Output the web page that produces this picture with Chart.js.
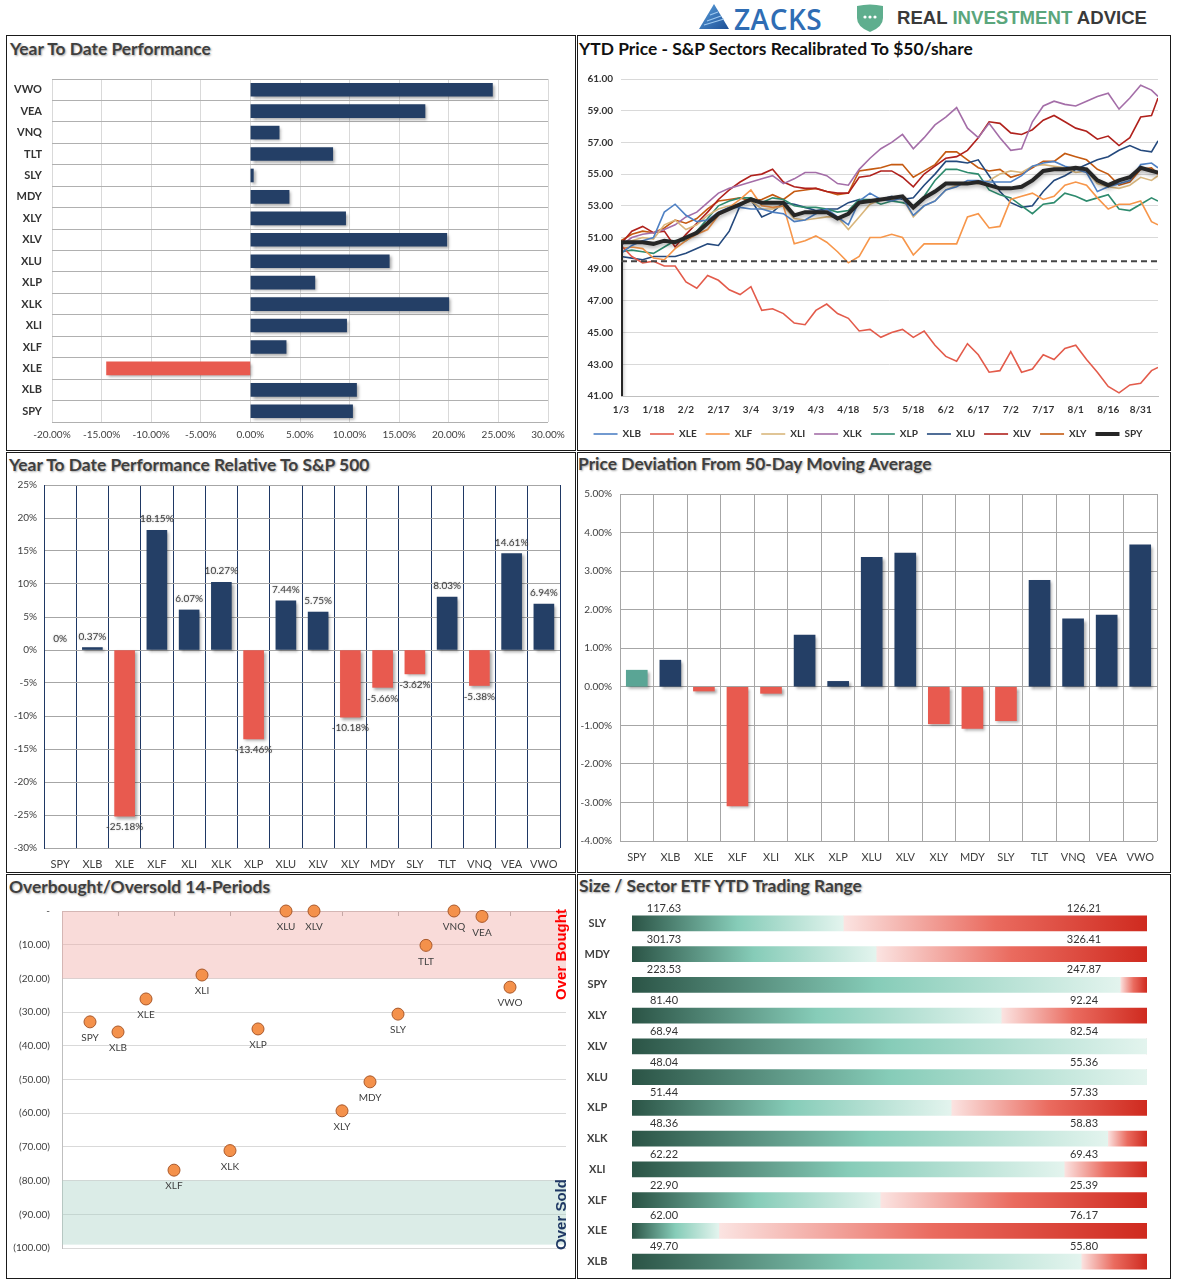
<!DOCTYPE html>
<html lang="en">
<head>
<meta charset="UTF-8">
<title>Sector Dashboard</title>
<style>
  body { margin:0; background:#fff; width:1180px; height:1286px; position:relative; overflow:hidden; font-family: Lato, 'Open Sans', sans-serif; }
  .panel { position:absolute; border:1px solid #1a1a1a; box-sizing:border-box; }
  .title { position:absolute; font-weight:bold; font-size:17.4px; line-height:18px; color:#3f3f3f; text-shadow:1px 1px 2px rgba(0,0,0,0.35); white-space:nowrap; }
  canvas { position:absolute; }
  .vtext { position:absolute; transform:rotate(-90deg); transform-origin:center; font-family:'Liberation Sans', Arial, sans-serif; font-weight:bold; font-size:15px; white-space:nowrap; }
</style>
</head>
<body>

<!-- header logos -->
<svg style="position:absolute;left:699px;top:4px" width="30" height="25" viewBox="0 0 30 25">
  <defs><linearGradient id="zg" x1="0" y1="0" x2="1" y2="1"><stop offset="0" stop-color="#5aa0dc"/><stop offset="1" stop-color="#1d4f96"/></linearGradient></defs>
  <polygon points="15,0 30,25 0,25" fill="url(#zg)"/>
  <path d="M8 17 L22 12 M5 21 L25 15 M11 11 L19 8" stroke="#9cc8ef" stroke-width="1.2"/>
</svg>
<div style="position:absolute;left:734px;top:0px;font-family:'Open Sans',sans-serif;font-weight:600;font-size:28px;color:#2f6db4;letter-spacing:0.5px">ZACKS</div>
<svg style="position:absolute;left:855px;top:4px" width="30" height="28" viewBox="0 0 30 28">
  <path d="M2 2 Q15 -1 28 2 L28 14 Q28 23 15 28 Q2 23 2 14 Z" fill="#5fae8e"/>
  <circle cx="10" cy="13" r="1.6" fill="#fff"/><circle cx="15" cy="13" r="1.6" fill="#fff"/><circle cx="20" cy="13" r="1.6" fill="#fff"/>
</svg>
<div style="position:absolute;left:897px;top:7px;font-family:'Liberation Sans',Arial,sans-serif;font-weight:bold;font-size:18.6px;color:#3a3a3a">REAL <span style="color:#5aa67c">INVESTMENT</span> ADVICE</div>

<!-- panels -->
<div class="panel" style="left:6px;top:35px;width:570px;height:416px"></div>
<div class="panel" style="left:577px;top:35px;width:594px;height:416px"></div>
<div class="panel" style="left:6px;top:452px;width:570px;height:421px"></div>
<div class="panel" style="left:577px;top:452px;width:594px;height:421px"></div>
<div class="panel" style="left:6px;top:874px;width:570px;height:405px"></div>
<div class="panel" style="left:577px;top:874px;width:594px;height:405px"></div>

<div class="title" style="left:10px;top:40px">Year To Date Performance</div>
<div class="title" style="left:579px;top:40px;color:#111;text-shadow:none">YTD Price - S&amp;P Sectors Recalibrated To $50/share</div>
<div class="title" style="left:9px;top:456px">Year To Date Performance Relative To S&amp;P 500</div>
<div class="title" style="left:578px;top:455px">Price Deviation From 50-Day Moving Average</div>
<div class="title" style="left:9px;top:878px">Overbought/Oversold 14-Periods</div>
<div class="title" style="left:579px;top:877px">Size / Sector ETF YTD Trading Range</div>

<canvas id="ytd" width="567" height="389" style="left:7px;top:60px"></canvas>
<canvas id="price" width="591" height="389" style="left:578px;top:60px"></canvas>
<canvas id="relative" width="567" height="402" style="left:7px;top:470px"></canvas>
<canvas id="deviation" width="591" height="397" style="left:578px;top:475px"></canvas>
<canvas id="obos" width="567" height="382" style="left:7px;top:895px"></canvas>
<canvas id="range" width="591" height="382" style="left:578px;top:895px"></canvas>

<div class="vtext" style="left:510px;top:946px;width:100px;text-align:center;color:#ff0000">Over Bought</div>
<div class="vtext" style="left:520px;top:1206px;width:80px;text-align:center;color:#1f3864">Over Sold</div>

<script src="https://cdn.jsdelivr.net/npm/chart.js"></script>
<script>
// ---- data ----
// year to date performance, top to bottom
const ytdTickers = ['VWO', 'VEA', 'VNQ', 'TLT', 'SLY', 'MDY', 'XLY', 'XLV', 'XLU', 'XLP', 'XLK', 'XLI', 'XLF', 'XLE', 'XLB', 'SPY'];
const ytdReturns = [24.4, 17.6, 2.9, 8.3, 0.3, 3.9, 9.6, 19.8, 14.0, 6.5, 20.0, 9.7, 3.6, -14.5, 10.7, 10.3];

// price line chart, recalibrated to $50 (day of year)
const days = [3, 8, 13, 18, 23, 28, 33, 38, 43, 48, 53, 58, 63, 68, 73, 78, 83, 88, 93, 98,
  103, 108, 113, 118, 123, 128, 133, 138, 143, 148, 153, 158, 163, 168, 173, 178, 183, 188, 193, 198,
  203, 208, 213, 218, 223, 228, 233, 238, 243, 248, 251];
const tickDays = [3, 18, 33, 48, 63, 78, 93, 108, 123, 138, 153, 168, 183, 198, 213, 228, 243];
const tickLabels = ['1/3', '1/18', '2/2', '2/17', '3/4', '3/19', '4/3', '4/18', '5/3', '5/18', '6/2', '6/17', '7/2', '7/17', '8/1', '8/16', '8/31'];
const xlb = [50.0, 50.5, 50.8, 51.0, 52.6, 53.1, 52.4, 52.0, 52.1, 52.6, 52.9, 52.9, 52.8, 52.8, 52.6, 52.5, 52.0, 52.1, 52.5, 52.8,
  52.3, 51.8, 53.3, 53.8, 53.4, 53.3, 53.5, 52.4, 53.0, 53.3, 54.0, 54.2, 54.6, 54.6, 54.5, 54.5, 54.5, 54.9, 55.5, 55.7,
  55.8, 55.5, 55.3, 55.1, 53.9, 54.2, 54.4, 54.6, 55.6, 55.7, 55.4];
const xle = [50.5, 49.8, 49.4, 49.5, 49.2, 49.2, 48.2, 47.8, 48.6, 48.3, 47.7, 47.4, 47.9, 46.4, 46.5, 46.2, 45.6, 45.5, 46.4, 46.8,
  46.2, 45.9, 45.1, 45.2, 44.7, 45.0, 45.2, 44.7, 45.1, 44.2, 43.5, 43.2, 44.3, 43.6, 42.5, 42.6, 43.8, 42.5, 42.7, 43.6,
  43.3, 44.0, 44.2, 43.3, 42.5, 41.6, 41.2, 41.7, 41.8, 42.6, 42.8];
const xlf = [50.3, 50.4, 50.3, 49.7, 49.6, 50.3, 50.8, 51.2, 51.5, 52.4, 52.9, 53.4, 54.0, 53.0, 52.9, 53.0, 50.6, 50.8, 51.1, 50.7,
  50.1, 49.4, 49.8, 51.0, 51.0, 51.2, 51.0, 49.9, 50.6, 50.6, 50.6, 50.6, 52.3, 52.5, 51.6, 51.7, 53.4, 53.6, 53.8, 53.4,
  53.6, 54.3, 54.5, 54.3, 53.5, 52.8, 53.1, 53.1, 53.3, 52.0, 51.8];
const xli = [50.6, 50.8, 51.0, 50.9, 51.8, 52.1, 51.5, 51.8, 52.4, 52.8, 53.0, 53.1, 53.3, 52.8, 52.8, 53.0, 52.2, 52.1, 52.2, 52.3,
  52.3, 51.5, 52.3, 53.1, 53.4, 53.4, 53.5, 52.3, 53.0, 53.3, 54.0, 54.3, 54.5, 54.4, 54.6, 55.0, 55.2, 55.1, 55.5, 55.6,
  55.5, 55.4, 55.1, 55.2, 54.4, 54.2, 54.1, 54.3, 54.8, 54.6, 54.9];
const xlk = [50.5, 51.0, 51.2, 51.3, 51.5, 51.8, 52.3, 52.6, 53.2, 53.8, 54.1, 54.3, 54.5, 54.7, 54.9, 54.4, 54.7, 55.1, 55.1, 54.9,
  54.4, 54.3, 55.3, 56.0, 56.6, 57.0, 57.5, 56.6, 57.3, 58.1, 58.6, 59.2, 57.9, 57.3, 58.2, 57.3, 56.5, 56.6, 58.3, 59.3,
  59.6, 59.4, 59.3, 59.6, 59.9, 60.1, 59.1, 59.8, 60.6, 60.3, 59.9];
const xlp = [50.1, 50.2, 50.1, 50.0, 50.4, 50.8, 50.8, 51.4, 52.2, 53.0, 53.3, 53.5, 53.5, 53.2, 53.5, 53.4, 53.0, 52.9, 52.9, 52.8,
  52.6, 52.7, 53.4, 53.4, 53.1, 53.3, 53.2, 53.0, 53.6, 54.6, 55.3, 55.3, 55.1, 55.0, 54.0, 53.7, 53.5, 53.0, 52.5, 53.1,
  53.2, 53.8, 53.6, 53.3, 53.5, 53.7, 52.8, 52.7, 53.1, 53.5, 53.3];
const xlu = [49.8, 49.7, 49.6, 49.8, 49.8, 49.8, 50.0, 50.3, 50.6, 50.5, 51.4, 53.0, 53.4, 52.3, 52.6, 53.2, 53.1, 52.9, 52.7, 52.8,
  52.8, 53.2, 53.4, 53.3, 53.4, 53.6, 53.4, 53.5, 54.3, 55.0, 55.8, 55.8, 55.7, 55.9, 54.9, 53.9, 53.2, 52.9, 53.0, 53.9,
  54.6, 54.9, 55.3, 55.6, 55.9, 56.1, 56.5, 56.8, 56.5, 56.4, 57.1];
const xlv = [50.6, 51.4, 51.7, 51.3, 51.4, 50.4, 51.2, 51.9, 52.6, 53.4, 54.0, 54.5, 54.9, 55.0, 55.3, 54.5, 54.2, 54.1, 54.1, 53.9,
  53.8, 53.8, 54.8, 54.9, 55.2, 55.2, 54.8, 54.2, 55.0, 55.5, 56.0, 56.1, 56.5, 57.3, 58.3, 58.2, 57.6, 57.5, 57.8, 58.4,
  58.7, 58.3, 57.9, 57.7, 57.2, 57.4, 56.8, 57.3, 58.6, 58.7, 59.8];
const xly = [50.8, 51.2, 51.4, 51.3, 51.6, 52.1, 51.9, 52.2, 52.8, 53.3, 53.4, 53.5, 53.3, 53.4, 53.7, 53.4, 53.9, 54.0, 54.1, 53.9,
  53.7, 53.8, 55.2, 55.3, 55.4, 55.6, 55.6, 54.8, 55.2, 55.6, 56.4, 56.4, 55.9, 55.4, 55.2, 55.3, 54.8, 55.0, 55.4, 55.8,
  55.8, 56.3, 56.1, 55.9, 55.3, 55.0, 54.3, 54.5, 55.3, 55.4, 55.0];
const spy = [50.7, 50.7, 50.7, 50.6, 50.8, 50.7, 51.0, 51.3, 51.9, 52.5, 52.8, 53.1, 53.4, 53.2, 53.2, 53.2, 52.4, 52.6, 52.6, 52.6,
  52.2, 52.5, 53.2, 53.3, 53.4, 53.5, 53.6, 52.9, 53.5, 53.9, 54.4, 54.4, 54.4, 54.5, 54.3, 54.1, 54.1, 54.2, 54.6, 55.2,
  55.3, 55.3, 55.4, 55.3, 54.6, 54.3, 54.6, 54.8, 55.4, 55.2, 55.1];
const spyAnchor = 41;      // SPY line starts from the axis floor
const baseline = 49.5;     // dashed reference line

// relative performance, deviation and overbought/oversold share one order
const etfs = ['SPY', 'XLB', 'XLE', 'XLF', 'XLI', 'XLK', 'XLP', 'XLU', 'XLV', 'XLY', 'MDY', 'SLY', 'TLT', 'VNQ', 'VEA', 'VWO'];
const relativePerf = [0, 0.37, -25.18, 18.15, 6.07, 10.27, -13.46, 7.44, 5.75, -10.18, -5.66, -3.62, 8.03, -5.38, 14.61, 6.94];
const deviation50 = [0.43, 0.69, -0.11, -3.09, -0.17, 1.34, 0.14, 3.36, 3.47, -0.96, -1.08, -0.88, 2.76, 1.76, 1.86, 3.68];
const obosValues = [-32.9, -35.9, -26.1, -76.9, -19.0, -71.1, -35.0, 0, 0, -59.3, -50.7, -30.6, -10.2, 0, -1.6, -22.6];
const overboughtBand = [0, -20];
const oversoldBand = [-80, -99];

// trading range
const rangeTickers = ['SLY', 'MDY', 'SPY', 'XLY', 'XLV', 'XLU', 'XLP', 'XLK', 'XLI', 'XLF', 'XLE', 'XLB'];
const rangeLow = [117.63, 301.73, 223.53, 81.40, 68.94, 48.04, 51.44, 48.36, 62.22, 22.90, 62.00, 49.70];
const rangeHigh = [126.21, 326.41, 247.87, 92.24, 82.54, 55.36, 57.33, 58.83, 69.43, 25.39, 76.17, 55.80];
const rangeLast = [121.15, 313.43, 246.60, 89.17, 82.54, 55.36, 55.09, 58.03, 68.27, 24.10, 64.39, 55.02];

// ---- styles ----
const NAVY = '#243f66';
const RED = '#e85a4f';
const TEAL = '#5aa595';

Chart.defaults.font.family = "Lato, 'Open Sans', sans-serif";
Chart.defaults.color = '#404040';
Chart.defaults.animation = false;
Chart.defaults.responsive = false;
Chart.defaults.devicePixelRatio = 1;
Chart.defaults.plugins.legend.display = false;
Chart.defaults.plugins.tooltip.enabled = false;

// fixed axis size, and no extra padding for end labels
const fixWidth = w => s => { s.width = w; s.paddingTop = 0; s.paddingBottom = 0; };
const fixHeight = h => s => { s.height = h; s.paddingLeft = 0; s.paddingRight = 0; };

const barShadow = {
  id: 'barShadow',
  beforeDatasetsDraw(chart) {
    const c = chart.ctx;
    c.save();
    c.shadowColor = 'rgba(0,0,0,0.35)';
    c.shadowBlur = 3;
    c.shadowOffsetX = 2;
    c.shadowOffsetY = 2;
  },
  afterDatasetsDraw(chart) { chart.ctx.restore(); }
};

// ---- top left: YTD performance ----
new Chart(document.getElementById('ytd'), {
  type: 'bar',
  data: {
    labels: ytdTickers,
    datasets: [{ data: ytdReturns, backgroundColor: ytdReturns.map(v => v < 0 ? RED : NAVY), barThickness: 13 }]
  },
  options: {
    indexAxis: 'y',
    layout: { padding: { top: 19, right: 26, left: 0, bottom: 0 } },
    scales: {
      x: {
        min: -20, max: 30,
        ticks: { stepSize: 5, callback: v => v.toFixed(2) + '%', font: { size: 10 }, padding: 7 },
        grid: { color: '#d9d9d9', drawTicks: false },
        border: { display: false },
        afterFit: fixHeight(27)
      },
      y: {
        grid: { offset: true, color: '#b0b0b0', drawTicks: false },
        border: { display: false },
        ticks: { font: { size: 11, weight: 'bold' }, color: '#333', padding: 10 },
        afterFit: fixWidth(45)
      }
    }
  },
  plugins: [barShadow]
});

// ---- top right: price lines ----
const sectorNames = ['XLB', 'XLE', 'XLF', 'XLI', 'XLK', 'XLP', 'XLU', 'XLV', 'XLY'];
const sectorSeries = [xlb, xle, xlf, xli, xlk, xlp, xlu, xlv, xly];
const sectorColors = ['#4f81c4', '#e35b4b', '#f7964a', '#d9b67c', '#a46ea8', '#2e8b6e', '#24497d', '#b0211c', '#c55a11'];

const toPoints = vals => vals.map((v, i) => ({ x: days[i], y: v }));
const priceSets = sectorNames.map((name, k) => ({
  label: name, data: toPoints(sectorSeries[k]), borderColor: sectorColors[k], backgroundColor: sectorColors[k],
  borderWidth: 1.6, pointRadius: 0, order: 2
}));
priceSets.push({
  label: 'SPY', data: [{ x: days[0], y: spyAnchor }].concat(toPoints(spy)),
  borderColor: '#262626', backgroundColor: '#262626', borderWidth: 4, pointRadius: 0, order: 1
});
priceSets.push({
  label: 'base', data: [{ x: days[0], y: baseline }, { x: days[days.length - 1], y: baseline }],
  borderColor: '#444', borderWidth: 2, borderDash: [6, 4], pointRadius: 0, order: 0
});

const spyShadow = {
  id: 'spyShadow',
  beforeDatasetDraw(chart, args) {
    if (chart.data.datasets[args.index].label !== 'SPY') return;
    const c = chart.ctx;
    c.save();
    c.shadowColor = 'rgba(0,0,0,0.35)';
    c.shadowBlur = 4;
    c.shadowOffsetY = 2;
  },
  afterDatasetDraw(chart, args) {
    if (chart.data.datasets[args.index].label === 'SPY') chart.ctx.restore();
  }
};

new Chart(document.getElementById('price'), {
  type: 'line',
  data: { datasets: priceSets },
  options: {
    layout: { padding: { top: 19, right: 11, left: 0, bottom: 0 } },
    scales: {
      x: {
        type: 'linear', min: 3, max: 251,
        afterBuildTicks: s => { s.ticks = tickDays.map(v => ({ value: v })); },
        ticks: { callback: v => tickLabels[tickDays.indexOf(v)], font: { size: 10, weight: 'bold' }, color: '#333', maxRotation: 0, autoSkip: false, padding: 8 },
        grid: { display: false, drawTicks: false },
        border: { color: '#bfbfbf' },
        afterFit: fixHeight(24)
      },
      y: {
        min: 41, max: 61,
        ticks: { stepSize: 2, callback: v => v.toFixed(2), font: { size: 10, weight: 'bold' }, color: '#333', padding: 8 },
        grid: { color: '#d9d9d9', drawTicks: false },
        border: { display: false },
        afterFit: fixWidth(43)
      }
    },
    plugins: {
      legend: {
        display: true, position: 'bottom',
        labels: {
          usePointStyle: true, pointStyle: 'line', pointStyleWidth: 24, boxHeight: 8,
          font: { size: 10, weight: 'bold' }, color: '#333', padding: 9,
          filter: item => item.text !== 'base',
          sort: (a, b) => a.datasetIndex - b.datasetIndex
        }
      }
    }
  },
  plugins: [spyShadow]
});

// ---- middle: relative performance and 50-day deviation ----
const pctLabels = {
  id: 'pctLabels',
  afterDatasetsDraw(chart) {
    const c = chart.ctx;
    const vals = chart.data.datasets[0].data;
    c.save();
    c.font = '10px Lato';
    c.fillStyle = '#404040';
    c.textAlign = 'center';
    c.textBaseline = 'middle';
    c.shadowColor = 'rgba(0,0,0,0.3)';
    c.shadowBlur = 2;
    chart.getDatasetMeta(0).data.forEach((bar, i) => {
      const v = vals[i];
      const txt = v === 0 ? '0%' : v.toFixed(2) + '%';
      c.fillText(txt, bar.x, v >= 0 ? bar.y - 11 : bar.y + 11);
    });
    c.restore();
  }
};

const catTicks = { font: { size: 11 }, color: '#404040', padding: 10, maxRotation: 0, minRotation: 0, autoSkip: false };

new Chart(document.getElementById('relative'), {
  type: 'bar',
  data: {
    labels: etfs,
    datasets: [{
      data: relativePerf,
      backgroundColor: relativePerf.map(v => v === 0 ? 'rgba(0,0,0,0)' : (v < 0 ? RED : NAVY)),
      barThickness: 20
    }]
  },
  options: {
    layout: { padding: { top: 15, right: 14, left: 0, bottom: 0 } },
    scales: {
      x: {
        grid: { offset: true, color: '#1f3864', drawTicks: false },
        border: { display: false },
        ticks: catTicks,
        afterFit: fixHeight(24)
      },
      y: {
        min: -30, max: 25,
        ticks: { stepSize: 5, callback: v => v + '%', font: { size: 10 }, padding: 7 },
        grid: { color: '#a6a6a6', drawTicks: false },
        border: { color: '#1f3864' },
        afterFit: fixWidth(37)
      }
    }
  },
  plugins: [barShadow, pctLabels]
});

new Chart(document.getElementById('deviation'), {
  type: 'bar',
  data: {
    labels: etfs,
    datasets: [{
      data: deviation50,
      backgroundColor: deviation50.map((v, i) => etfs[i] === 'SPY' ? TEAL : (v < 0 ? RED : NAVY)),
      barThickness: 21
    }]
  },
  options: {
    layout: { padding: { top: 19, right: 12, left: 0, bottom: 0 } },
    scales: {
      x: {
        grid: { offset: true, color: '#a6a6a6', drawTicks: false },
        border: { display: false },
        ticks: catTicks,
        afterFit: fixHeight(31)
      },
      y: {
        min: -4, max: 5,
        ticks: { stepSize: 1, callback: v => v.toFixed(2) + '%', font: { size: 10 }, padding: 8 },
        grid: { color: '#a6a6a6', drawTicks: false },
        border: { color: '#a6a6a6' },
        afterFit: fixWidth(42)
      }
    }
  },
  plugins: [barShadow]
});

// ---- bottom left: overbought / oversold ----
const obosBands = {
  id: 'obosBands',
  beforeDatasetsDraw(chart) {
    const c = chart.ctx, ys = chart.scales.y, a = chart.chartArea;
    const band = (r, color) => {
      const y0 = ys.getPixelForValue(r[0]), y1 = ys.getPixelForValue(r[1]);
      c.fillStyle = color;
      c.fillRect(a.left, y0, a.right - a.left, y1 - y0);
    };
    c.save();
    band(overboughtBand, 'rgba(240,170,165,0.42)');
    band(oversoldBand, 'rgba(170,210,198,0.42)');
    c.restore();
  },
  afterDatasetsDraw(chart) {
    const c = chart.ctx;
    c.save();
    c.font = '10px Lato';
    c.fillStyle = '#404040';
    c.textAlign = 'center';
    c.textBaseline = 'middle';
    chart.getDatasetMeta(0).data.forEach((pt, i) => c.fillText(etfs[i], pt.x, pt.y + 16));
    c.restore();
  }
};

new Chart(document.getElementById('obos'), {
  type: 'scatter',
  data: {
    datasets: [{
      data: obosValues.map((v, i) => ({ x: i + 1, y: v })),
      backgroundColor: '#f4914b', borderColor: '#a9582a', borderWidth: 1, pointRadius: 6, clip: false
    }]
  },
  options: {
    layout: { padding: { top: 16, right: 8, left: 0, bottom: 29 } },
    scales: {
      x: {
        position: 'top', min: 0, max: 18,
        ticks: { display: false, stepSize: 2 },
        grid: { drawOnChartArea: false, tickLength: -5, color: '#a6a6a6' },
        border: { color: '#bfbfbf' },
        afterFit: fixHeight(0)
      },
      y: {
        min: -100, max: 0,
        ticks: { stepSize: 10, callback: v => v === 0 ? '-' : '(' + Math.abs(v).toFixed(2) + ')', font: { size: 10 }, padding: 12 },
        grid: { color: '#d9d9d9', drawTicks: false },
        border: { color: '#bfbfbf' },
        afterFit: fixWidth(55)
      }
    }
  },
  plugins: [obosBands]
});

// ---- bottom right: trading range ----
const rangePos = rangeLast.map((v, i) => (v - rangeLow[i]) / (rangeHigh[i] - rangeLow[i]));
const greenStops = ['#2b5446', '#86ccb8', '#e3f4ee'];
const redStops = ['#fbe4e2', '#ea6b5f', '#cf2a1f'];

function segmentFill(ctx, stops, from, to) {
  const chart = ctx.chart;
  if (!chart.chartArea || ctx.dataIndex === undefined) return stops[1];
  const xs = chart.scales.x;
  const x0 = xs.getPixelForValue(from(ctx.dataIndex));
  const x1 = xs.getPixelForValue(to(ctx.dataIndex));
  if (x1 - x0 < 1) return stops[1];
  const g = chart.ctx.createLinearGradient(x0, 0, x1, 0);
  g.addColorStop(0, stops[0]);
  g.addColorStop(0.5, stops[1]);
  g.addColorStop(1, stops[2]);
  return g;
}

const rangeLabels = {
  id: 'rangeLabels',
  afterDatasetsDraw(chart) {
    const c = chart.ctx, ys = chart.scales.y, a = chart.chartArea;
    c.save();
    c.font = '11px Lato';
    c.fillStyle = '#333';
    c.textAlign = 'center';
    c.textBaseline = 'middle';
    rangeTickers.forEach((t, i) => {
      const y = ys.getPixelForValue(i) - 15;
      c.fillText(rangeLow[i].toFixed(2), a.left + 32, y);
      c.fillText(rangeHigh[i].toFixed(2), a.right - 63, y);
    });
    c.restore();
  }
};

new Chart(document.getElementById('range'), {
  type: 'bar',
  data: {
    labels: rangeTickers,
    datasets: [
      { data: rangePos, barThickness: 15, backgroundColor: ctx => segmentFill(ctx, greenStops, () => 0, i => rangePos[i]) },
      { data: rangePos.map(p => 1 - p), barThickness: 15, backgroundColor: ctx => segmentFill(ctx, redStops, i => rangePos[i], () => 1) }
    ]
  },
  options: {
    indexAxis: 'y',
    layout: { padding: { top: 13, right: 22, left: 0, bottom: 0 } },
    scales: {
      x: { display: false, stacked: true, min: 0, max: 1 },
      y: {
        stacked: true,
        grid: { display: false },
        border: { display: false },
        ticks: { crossAlign: 'center', font: { size: 11, weight: 'bold' }, color: '#404040', padding: 14 },
        afterFit: fixWidth(54)
      }
    }
  },
  plugins: [rangeLabels]
});
</script>
</body>
</html>
